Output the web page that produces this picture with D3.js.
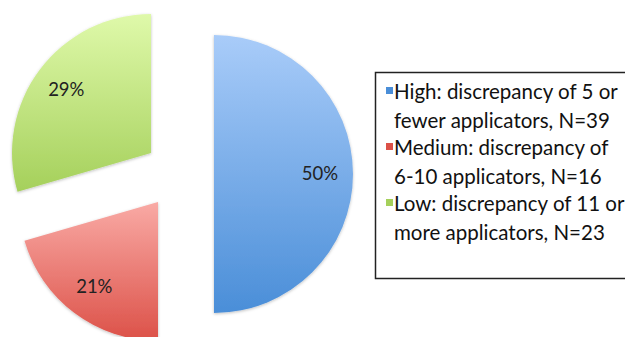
<!DOCTYPE html>
<html>
<head>
<script src="https://d3js.org/d3.v7.min.js"></script>
<style>
  body { margin: 0; background: #fff; }
  text { font-family: Lato, "Open Sans", sans-serif; }
</style>
</head>
<body>
<div id="chart"></div>
<script>
// data
var categories = ["High", "Medium", "Low"];
var counts = [39, 16, 23];
var legendLines = [
  ["High: discrepancy of 5 or", "fewer applicators, N=39"],
  ["Medium: discrepancy of", "6-10 applicators, N=16"],
  ["Low: discrepancy of 11 or", "more applicators, N=23"]
];
var topColors = ["#a9ccf9", "#f9aaa5", "#dff9aa"];
var bottomColors = ["#4a8ed8", "#dc5148", "#a5d05b"];

var width = 625, height = 337;
var radius = 139, explode = 35;
var cx = 179, cy = 174;

var svg = d3.select("#chart").append("svg")
    .attr("width", width)
    .attr("height", height);

var defs = svg.append("defs");

var shadow = defs.append("filter").attr("id", "shadow")
    .attr("x", "-10%").attr("y", "-10%").attr("width", "120%").attr("height", "120%");
shadow.append("feDropShadow")
    .attr("dx", 0).attr("dy", 1).attr("stdDeviation", 1.5)
    .attr("flood-color", "#000").attr("flood-opacity", 0.25);

categories.forEach(function(c, i) {
  var g = defs.append("linearGradient").attr("id", "grad" + i)
      .attr("x1", 0).attr("y1", 0).attr("x2", 0).attr("y2", 1);
  g.append("stop").attr("offset", "0%").attr("stop-color", topColors[i]);
  g.append("stop").attr("offset", "100%").attr("stop-color", bottomColors[i]);
});

var pie = d3.pie().sort(null).value(function(d) { return d; });
var arcs = pie(counts);
var total = d3.sum(counts);

var arc = d3.arc().innerRadius(0).outerRadius(radius);
var labelArc = d3.arc().innerRadius(106).outerRadius(106);

var pieG = svg.append("g").attr("transform", "translate(" + cx + "," + cy + ")");

var slices = pieG.selectAll("g.slice")
  .data(arcs)
  .enter().append("g")
    .attr("class", "slice")
    .attr("transform", function(d) {
      var a = (d.startAngle + d.endAngle) / 2;
      return "translate(" + (Math.sin(a) * explode) + "," + (-Math.cos(a) * explode) + ")";
    });

slices.append("path")
    .attr("d", arc)
    .attr("fill", function(d, i) { return "url(#grad" + i + ")"; })
    .attr("filter", "url(#shadow)");

slices.append("text")
    .attr("transform", function(d) { return "translate(" + labelArc.centroid(d) + ")"; })
    .attr("text-anchor", "middle")
    .attr("dy", "0.35em")
    .style("font-size", "18.5px")
    .style("fill", "#222")
    .text(function(d) { return Math.round(d.value / total * 100) + "%"; });

// legend
var legend = svg.append("g");
legend.append("rect")
    .attr("x", 375.5).attr("y", 72.5)
    .attr("width", 270).attr("height", 206)
    .attr("fill", "#fff")
    .attr("stroke", "#222")
    .attr("stroke-width", 1.5);

var items = legend.selectAll("g.item")
  .data(categories)
  .enter().append("g")
    .attr("class", "item")
    .attr("transform", function(d, i) { return "translate(386," + (99 + i * 56) + ")"; });

items.append("rect")
    .attr("x", 0).attr("y", -12)
    .attr("width", 7).attr("height", 7)
    .attr("fill", function(d, i) { return bottomColors[i]; });

items.each(function(d, i) {
  var t = d3.select(this).append("text")
      .style("font-size", "20.5px")
      .style("fill", "#111");
  legendLines[i].forEach(function(line, j) {
    t.append("tspan").attr("x", 8).attr("y", j * 29).text(line);
  });
});
</script>
</body>
</html>
